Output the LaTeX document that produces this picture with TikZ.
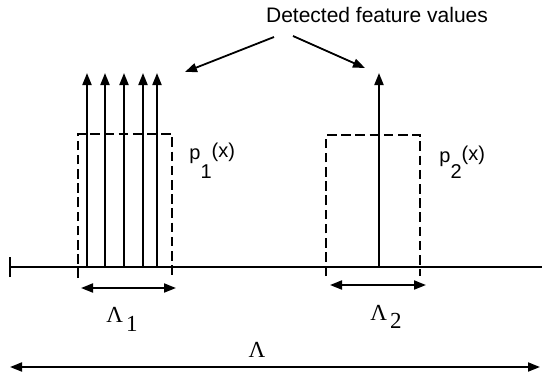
\documentclass[tikz,border=0pt]{standalone}
\usepackage{fontspec}
\setmainfont{Liberation Sans}
\newfontfamily\serifface{Liberation Serif}
\usetikzlibrary{arrows.meta, positioning}

\tikzset{
  axisline/.style={line width=0.9pt},
  feat/.style={line width=0.9pt, -{Triangle[length=6pt,width=4.5pt]}},
  span/.style={line width=0.9pt, {Triangle[length=6pt,width=4.5pt]}-{Triangle[length=6pt,width=4.5pt]}},
  window/.style={line width=0.8pt, dash pattern=on 4.8pt off 2.3pt},
  lab/.style={inner sep=0pt, font=\fontsize{10}{12}\selectfont},
  lam/.style={inner sep=0pt, font=\serifface\fontsize{11.5}{13}\selectfont},
}

\begin{document}
\begin{tikzpicture}[x=0.5pt, y=-0.5pt]
  \useasboundingbox (0,0) rectangle (542,381);

  % Title and its pointers
  \node[inner sep=0pt, font=\fontsize{10.5}{12}\selectfont, anchor=base] (title) at (377,22) {Detected feature values};
  \coordinate (ptrL) at (274,37);
  \coordinate (ptrR) at (293,36);
  \coordinate (hitL) at (185,72);
  \coordinate (hitR) at (365,68);
  \draw[feat] (ptrL) -- (hitL);
  \draw[feat] (ptrR) -- (hitR);

  % Feature axis
  \coordinate (ax0) at (10,267);
  \coordinate (ax1) at (542,267);
  \draw[axisline] (ax0) -- (ax1);
  \draw[axisline] (10,257) -- (10,277);

  % Detected values
  \foreach \x in {87,105,124,143,157} {
    \draw[feat] (\x,267) -- (\x,73);
  }
  \draw[feat] (379,267) -- (379,73);

  % Windows
  \draw[window] (78,278) -- (78,134) -- (172,134) -- (172,278);
  \draw[window] (326,276) -- (326,135) -- (420,135) -- (420,276);

  \node[lab, anchor=base west] (p1) at (189,159) {p\raisebox{-9.5pt}{1}\raisebox{1pt}{(x)}};
  \node[lab, anchor=base west] (p2) at (439,162) {p\raisebox{-8pt}{2}\raisebox{1pt}{(x)}};

  % Widths
  \coordinate (w1a) at (81,288);
  \coordinate (w1b) at (176,288);
  \draw[span] (w1a) -- (w1b);
  \node[lam, anchor=base west] (L1) at (106,322) {Λ\hspace{1.5pt}\raisebox{-4.5pt}{1}};

  \coordinate (w2a) at (330,285);
  \coordinate (w2b) at (426,285);
  \draw[span] (w2a) -- (w2b);
  \node[lam, anchor=base west] (L2) at (370,320) {Λ\hspace{1.5pt}\raisebox{-4pt}{2}};

  \coordinate (wa) at (10,367);
  \coordinate (wb) at (540,367);
  \draw[span] (wa) -- (wb);
  \node[lam, anchor=base] (L) at (257,357) {Λ};
\end{tikzpicture}
\end{document}
